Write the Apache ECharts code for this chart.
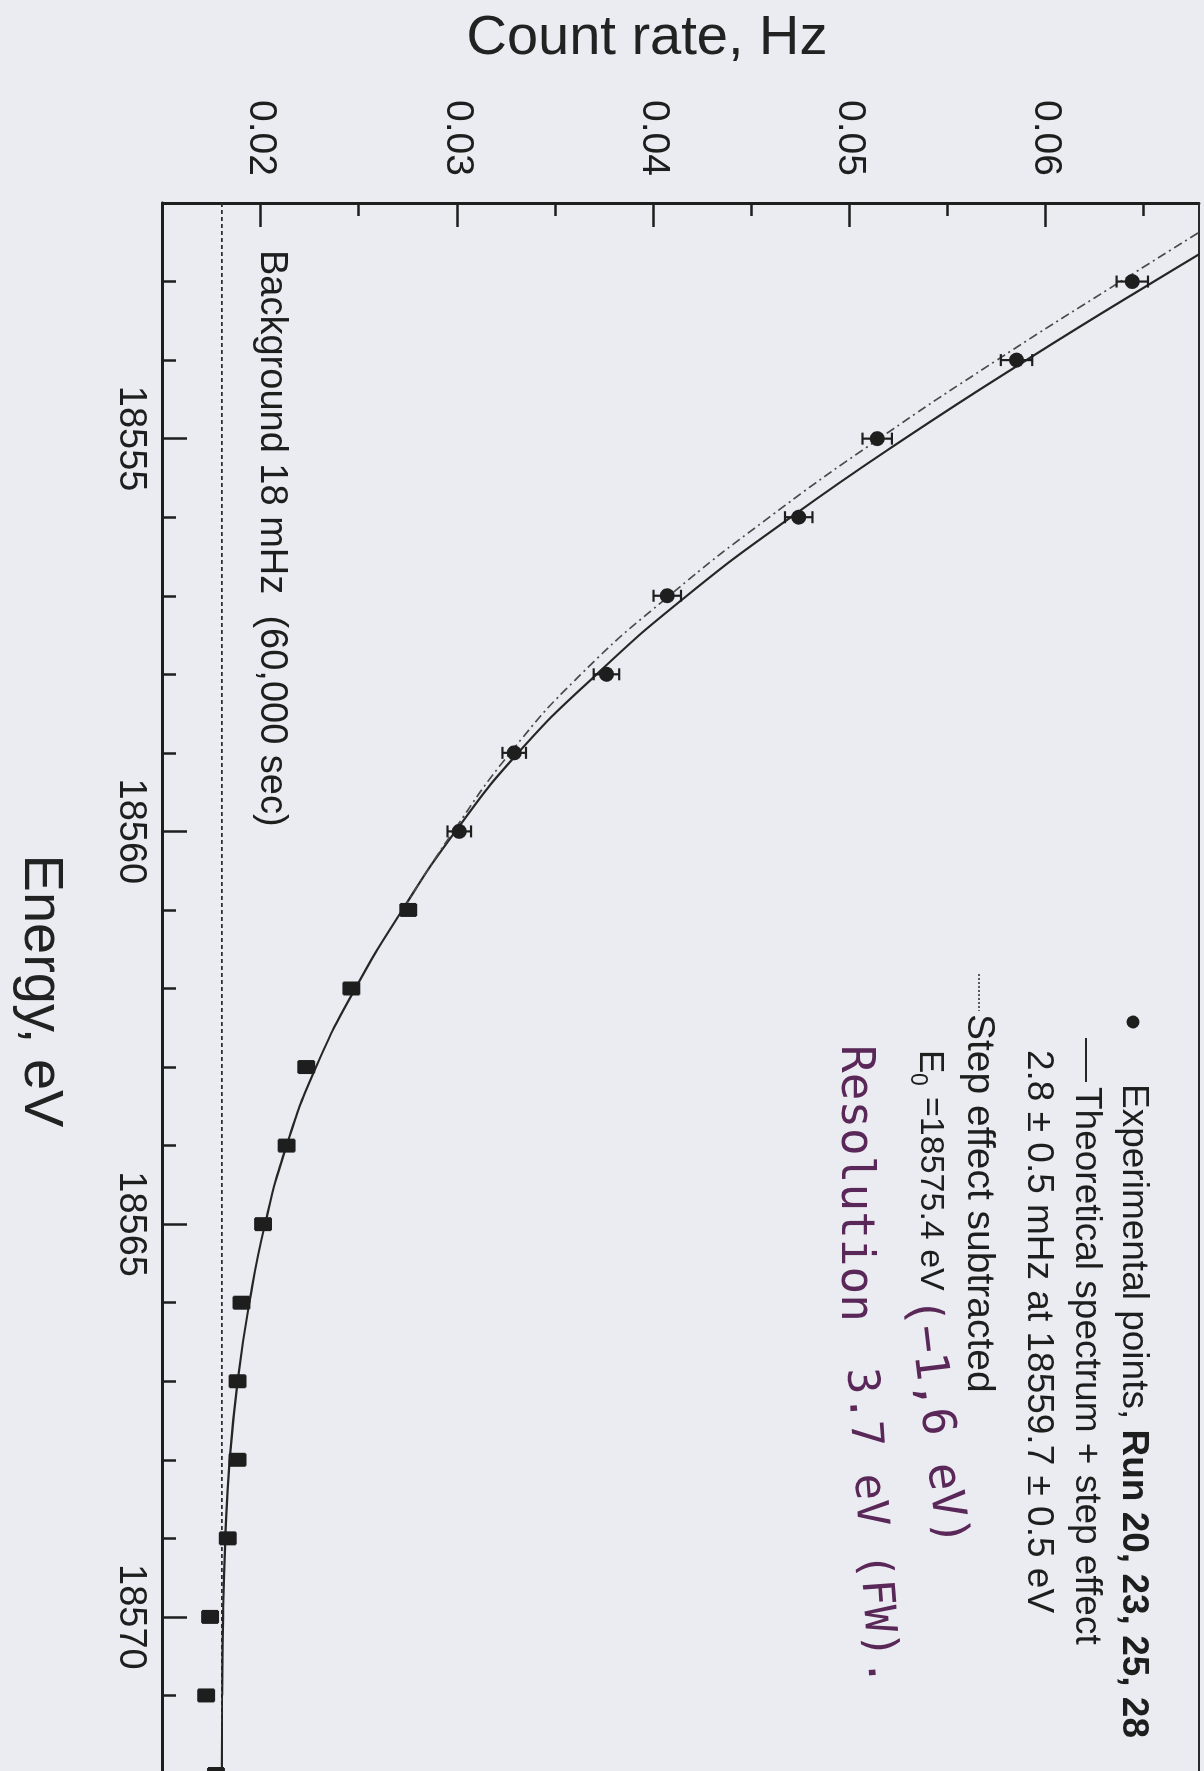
<!DOCTYPE html>
<html>
<head>
<meta charset="utf-8">
<script src="https://cdn.jsdelivr.net/npm/echarts@6/dist/echarts.min.js"></script>
<style>
  html, body { margin: 0; padding: 0; background: #ebecf1; }
  #page { position: relative; width: 1204px; height: 1771px; overflow: hidden; background: #ebecf1; }
  /* The plot is laid out landscape and turned a quarter turn clockwise onto the portrait page */
  #chart { position: absolute; left: 0; top: 0; width: 1771px; height: 1204px;
           transform-origin: 0 0; transform: translateX(1204px) rotate(90deg); }
</style>
</head>
<body>
<div id="page"><div id="chart"></div></div>
<script>
// Measured points (Run 20, 23, 25, 28)
const energies = [18553, 18554, 18555, 18556, 18557, 18558, 18559, 18560, 18561, 18562,
                  18563, 18564, 18565, 18566, 18567, 18568, 18569, 18570, 18571, 18572];
const rates = [0.0644, 0.0585, 0.0514, 0.0474, 0.0407, 0.0376, 0.0329, 0.0301, 0.0275, 0.0246,
               0.0223, 0.0213, 0.0201, 0.0190, 0.0188, 0.0188, 0.0183, 0.0174, 0.0172, 0.0177];
const rateErrors = [0.0008, 0.0008, 0.00075, 0.0007, 0.0007, 0.00065, 0.0006, 0.0006, 0.0004, 0.0004,
                    0.0004, 0.0004, 0.0004, 0.0004, 0.0004, 0.0004, 0.0004, 0.0004, 0.0004, 0.0004];

// Theoretical spectrum + step effect
const curveEnergies = [18552, 18553, 18554, 18555, 18556, 18557, 18558, 18559, 18560, 18561, 18562,
                       18563, 18564, 18565, 18566, 18567, 18568, 18569, 18570, 18571, 18572];
const theoryRates = [0.0722, 0.0655, 0.0590, 0.0528, 0.0470, 0.0417, 0.0371, 0.0331, 0.0299, 0.0272, 0.0248,
                     0.0228, 0.0213, 0.0202, 0.0194, 0.0188, 0.0184, 0.01818, 0.01806, 0.01802, 0.0180];

// Same spectrum with the step effect subtracted
const stepEnergies = [18552, 18553, 18554, 18555, 18556, 18557, 18558, 18559, 18560, 18561];
const stepSubRates = [0.0702, 0.0638, 0.0575, 0.0515, 0.0459, 0.0408, 0.0363, 0.0327, 0.0298, 0.0272];

const backgroundRate = 0.018;   // 18 mHz

const energyRange = [18552, 18572];
const rateRange = [0.015, 0.0678];
const energyTicks = [18555, 18560, 18565, 18570];
const energyMinorTicks = [18553, 18554, 18556, 18557, 18558, 18559, 18561, 18562, 18563, 18564,
                          18566, 18567, 18568, 18569, 18571];
const rateTicks = [0.02, 0.03, 0.04, 0.05, 0.06];
const rateMinorTicks = [0.025, 0.035, 0.045, 0.055, 0.065];

const FONT = "'Liberation Sans', Arial, Helvetica, sans-serif";
const HAND_FONT = "'DejaVu Sans Mono', monospace";
const INK = '#1e1e1e';
const HAND = '#5a2858';

const chart = echarts.init(document.getElementById('chart'), null, { renderer: 'canvas' });

const baseAxis = (extra) => Object.assign({
  type: 'value',
  splitLine: { show: false },
  axisLine: { show: false, onZero: false },
  axisTick: { show: false },
  axisLabel: { show: false }
}, extra);

const pointData = energies.map((e, i) => [e, rates[i]]);
const errorData = energies.map((e, i) => [e, rates[i] - rateErrors[i], rates[i] + rateErrors[i]]);

const legendText = (x, y, text, extra) => ({
  type: 'text', x, y, silent: true,
  style: Object.assign({ text, fontSize: 37, fontFamily: FONT, fill: INK,
                         align: 'left', verticalAlign: 'middle' }, extra || {})
});

const handText = (x, y, text, size, rotation) => ({
  type: 'text', x, y, rotation: rotation || 0, silent: true,
  style: { text, fontSize: size, fontFamily: HAND_FONT, fill: HAND,
           align: 'left', verticalAlign: 'middle' }
});

const option = {
  backgroundColor: '#ebecf1',
  animation: false,
  grid: { left: 203, right: -3, top: 5, bottom: 163, outerBoundsMode: 'none', containLabel: false },
  xAxis: [
    baseAxis({
      position: 'bottom', min: energyRange[0], max: energyRange[1],
      axisLine: { show: true, onZero: false, lineStyle: { color: INK, width: 3 } },
      axisTick: { show: true, inside: true, length: 24, customValues: energyTicks,
                  lineStyle: { color: INK, width: 2.5 } },
      axisLabel: { show: true, customValues: energyTicks, margin: 14, color: INK,
                   fontSize: 38, fontFamily: FONT, formatter: v => String(v) }
    }),
    baseAxis({
      position: 'bottom', min: energyRange[0], max: energyRange[1],
      axisTick: { show: true, inside: true, length: 13, customValues: energyMinorTicks,
                  lineStyle: { color: INK, width: 2.5 } }
    }),
    baseAxis({
      position: 'top', min: energyRange[0], max: energyRange[1],
      axisLine: { show: true, onZero: false, lineStyle: { color: '#2a2a2a', width: 2 } }
    })
  ],
  yAxis: [
    baseAxis({
      position: 'left', min: rateRange[0], max: rateRange[1],
      axisLine: { show: true, onZero: false, lineStyle: { color: INK, width: 3 } },
      axisTick: { show: true, inside: true, length: 24, customValues: rateTicks,
                  lineStyle: { color: INK, width: 2.5 } },
      axisLabel: { show: true, customValues: rateTicks, margin: 27, color: INK,
                   fontSize: 39, fontFamily: FONT, formatter: v => v.toFixed(2) }
    }),
    baseAxis({
      position: 'left', min: rateRange[0], max: rateRange[1],
      axisTick: { show: true, inside: true, length: 13, customValues: rateMinorTicks,
                  lineStyle: { color: INK, width: 2.5 } }
    })
  ],
  series: [
    {
      name: 'Background', type: 'line', symbol: 'none', silent: true, z: 2,
      data: energyRange.map(e => [e, backgroundRate]),
      lineStyle: { color: '#2b2b2b', width: 1.6, type: [4, 3] }
    },
    {
      name: 'Theoretical spectrum + step effect', type: 'line', symbol: 'none', silent: true, z: 3,
      smooth: 0.5, clip: true,
      data: curveEnergies.map((e, i) => [e, theoryRates[i]]),
      lineStyle: { color: '#262626', width: 2.2 }
    },
    {
      name: 'Step effect subtracted', type: 'line', symbol: 'none', silent: true, z: 3,
      smooth: 0.5, clip: true,
      data: stepEnergies.map((e, i) => [e, stepSubRates[i]]),
      lineStyle: { color: '#4a4a4a', width: 1.7, type: [9, 4, 2, 4] }
    },
    {
      name: 'Errors', type: 'custom', silent: true, z: 4,
      data: errorData,
      encode: { x: 0, y: [1, 2] },
      renderItem: (params, api) => {
        const e = api.value(0);
        const lo = api.coord([e, api.value(1)]);
        const hi = api.coord([e, api.value(2)]);
        const cap = 6;
        const st = { stroke: INK, lineWidth: 2.2 };
        return {
          type: 'group',
          children: [
            { type: 'line', shape: { x1: lo[0], y1: lo[1], x2: hi[0], y2: hi[1] }, style: st },
            { type: 'line', shape: { x1: lo[0] - cap, y1: lo[1], x2: lo[0] + cap, y2: lo[1] }, style: st },
            { type: 'line', shape: { x1: hi[0] - cap, y1: hi[1], x2: hi[0] + cap, y2: hi[1] }, style: st }
          ]
        };
      }
    },
    {
      name: 'Experimental points', type: 'scatter', z: 5,
      data: pointData,
      symbol: v => (v[0] > 18560 ? 'rect' : 'circle'),
      symbolSize: v => (v[0] > 18560 ? [14, 16] : 15),
      itemStyle: { color: INK, opacity: 1 }
    }
  ],
  graphic: [
    // axis titles
    { type: 'text', x: 39, y: 557, rotation: Math.PI / 2, silent: true,
      style: { text: 'Count rate, Hz', fontSize: 56, fontFamily: FONT, fill: '#222',
               align: 'center', verticalAlign: 'middle' } },
    { type: 'text', x: 991, y: 1164, silent: true,
      style: { text: 'Energy, eV', fontSize: 56, fontFamily: FONT, fill: '#222',
               align: 'center', verticalAlign: 'middle' } },
    // background note
    legendText(250, 933, 'Background 18 mHz  (60,000 sec)', { fontSize: 38 }),
    // legend
    { type: 'circle', silent: true, shape: { cx: 1022, cy: 71, r: 6.5 }, style: { fill: INK } },
    legendText(1084, 71, '{a|Experimental points, }{b|Run 20, 23, 25, 28}', {
      rich: {
        a: { fontSize: 37, fontFamily: FONT, fill: INK, color: INK },
        b: { fontSize: 37, fontFamily: FONT, fontWeight: 'bold', fill: INK, color: INK }
      }
    }),
    { type: 'line', silent: true, shape: { x1: 1038, y1: 118, x2: 1082, y2: 118 },
      style: { stroke: '#262626', lineWidth: 2 } },
    legendText(1087, 118, 'Theoretical spectrum + step effect'),
    legendText(1050, 166, '2.8 ± 0.5 mHz at 18559.7 ± 0.5 eV'),
    { type: 'line', silent: true, shape: { x1: 974, y1: 225, x2: 1011, y2: 225 },
      style: { stroke: '#333', lineWidth: 1.6, lineDash: [2, 2] } },
    legendText(1014, 225, 'Step effect subtracted', { fontSize: 39 }),
    legendText(1050, 274, 'E', { fontSize: 35 }),
    legendText(1073, 287, '0', { fontSize: 23 }),
    legendText(1097, 274, '=18575.4 eV', { fontSize: 34 }),
    // handwritten notes
    handText(1298, 284, '(−1,6 eV)', 46, 0.12),
    handText(1045, 350, 'Resolution', 46, 0),
    handText(1368, 345, '3.7 eV (FW).', 44, 0.07)
  ]
};

chart.setOption(option);
</script>
</body>
</html>
